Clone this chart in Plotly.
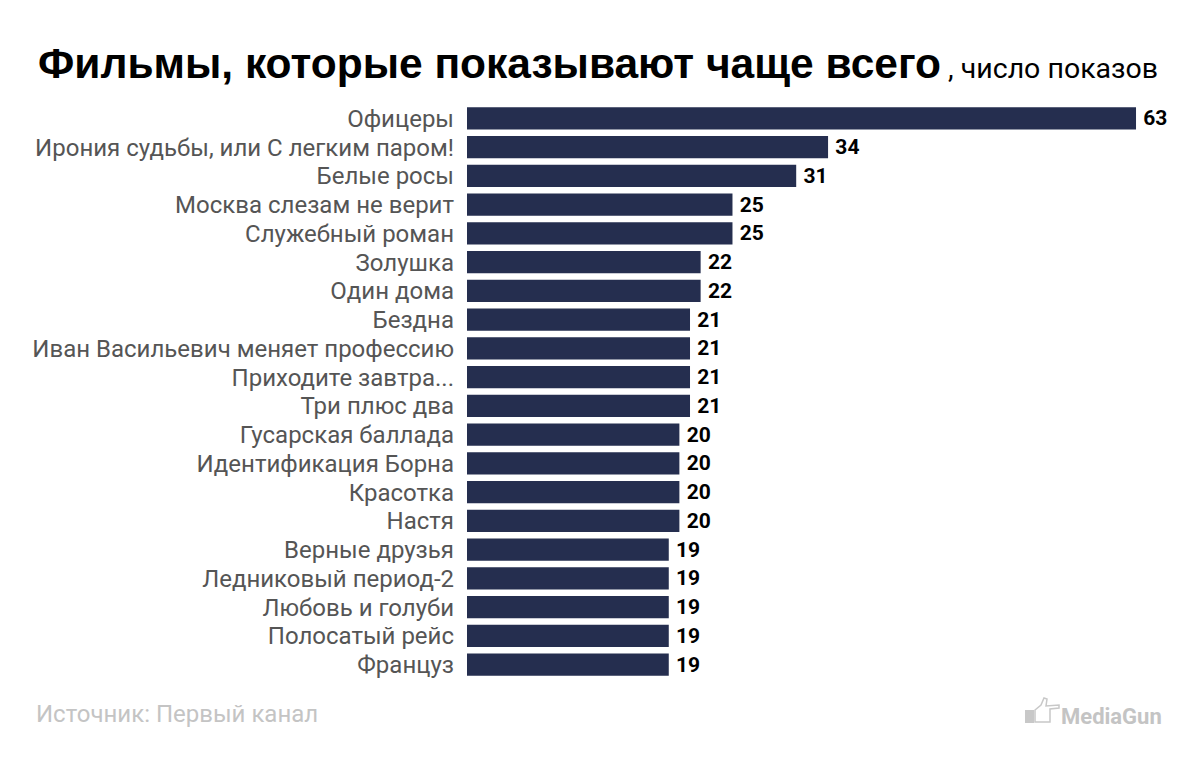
import plotly.graph_objects as go

films = ["Офицеры", "Ирония судьбы, или С легким паром!", "Белые росы",
         "Москва слезам не верит", "Служебный роман", "Золушка", "Один дома",
         "Бездна", "Иван Васильевич меняет профессию", "Приходите завтра...",
         "Три плюс два", "Гусарская баллада", "Идентификация Борна", "Красотка",
         "Настя", "Верные друзья", "Ледниковый период-2", "Любовь и голуби",
         "Полосатый рейс", "Француз"]
shows = [63, 34, 31, 25, 25, 22, 22, 21, 21, 21, 21, 20, 20, 20, 20, 19, 19, 19, 19, 19]

W, H = 1200, 765
L, R, T, B = 467, 30, 104, 86
PW, PH = W - L - R, H - T - B


def px(x):
    return (x - L) / PW


def py(y):
    return 1 - (y - T) / PH


fig = go.Figure(go.Bar(
    x=shows, y=films, orientation="h",
    marker=dict(color="#252e4f", line=dict(width=0)),
    width=0.77,
    texttemplate="\u2009<b>%{x}</b>", textposition="outside",
    textfont=dict(family="Roboto", size=21, color="#000000"),
    constraintext="none",
    cliponaxis=False,
))

fig.update_layout(
    width=W, height=H,
    margin=dict(l=L, r=R, t=T, b=B, autoexpand=False),
    paper_bgcolor="white", plot_bgcolor="white",
    showlegend=False,
    xaxis=dict(range=[0, 66.2], visible=False),
    yaxis=dict(autorange="reversed", showgrid=False, zeroline=False, showline=False,
               ticks="", ticklabelstandoff=12, automargin=False,
               tickmode="array", tickvals=films, ticktext=films,
               tickfont=dict(family="Roboto", size=24, color="#555555")),
    font=dict(family="Roboto"),
)

fig.add_annotation(
    xref="paper", yref="paper", x=px(36), y=py(63),
    xanchor="left", yanchor="middle", showarrow=False,
    text="<b>Фильмы, которые показывают чаще всего</b>"
         "<span style='font-family:Roboto;font-size:28.5px'> , число показов</span>",
    font=dict(family="Liberation Sans", size=42.5, color="#000000"),
)
fig.add_annotation(
    xref="paper", yref="paper", x=px(34), y=py(714),
    xanchor="left", yanchor="middle", showarrow=False,
    text="Источник: Первый канал",
    font=dict(family="Roboto", size=24, color="#c4c4c4"),
)
fig.add_annotation(
    xref="paper", yref="paper", x=px(1164), y=py(716),
    xanchor="right", yanchor="middle", showarrow=False,
    text="<b>MediaGun</b>",
    font=dict(family="Roboto", size=22, color="#c4c4c4"),
)
# small pointing-hand logo mark
fig.add_shape(type="rect", xref="paper", yref="paper",
              x0=px(1025), x1=px(1034), y0=py(723), y1=py(710),
              fillcolor="#c8c8c8", line=dict(width=0))
fig.add_shape(type="path", xref="paper", yref="paper",
              path=(f"M {px(1035)} {py(710)} L {px(1041)} {py(705)} L {px(1044)} {py(698)} "
                    f"L {px(1047)} {py(699)} L {px(1046)} {py(706)} L {px(1059)} {py(705)} "
                    f"L {px(1059)} {py(708)} L {px(1050)} {py(709)} L {px(1050)} {py(722)} "
                    f"L {px(1035)} {py(722)} Z"),
              fillcolor="rgba(0,0,0,0)", line=dict(color="#c8c8c8", width=1.5))

fig.write_html("out.html", config={"displayModeBar": False},
               post_script="document.body.style.margin='0';")
